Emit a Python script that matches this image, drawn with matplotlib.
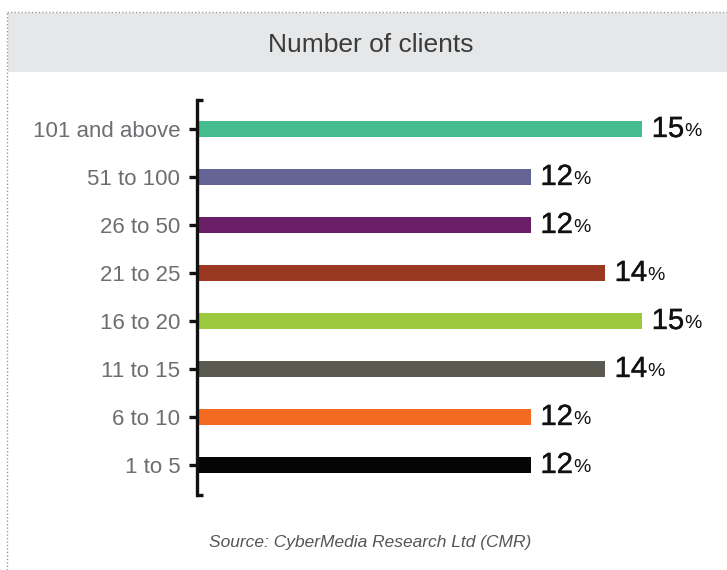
import matplotlib.pyplot as plt
import matplotlib.patheffects as pe
from matplotlib.patches import Rectangle
from matplotlib.lines import Line2D

plt.rcParams['font.family'] = ['Liberation Sans', 'DejaVu Sans']

categories = ['1 to 5', '6 to 10', '11 to 15', '16 to 20', '21 to 25',
              '26 to 50', '51 to 100', '101 and above']
values = [12, 12, 14, 15, 14, 12, 12, 15]
colors = ['#050505', '#f26b21', '#5a5a50', '#9bc93d', '#9a3822',
          '#6a1f68', '#646596', '#44bc8f']

W, H = 727, 570
fig = plt.figure(figsize=(W / 100, H / 100), dpi=100)

# header band and dotted frame
fig.patches.append(Rectangle((8 / W, 1 - 72 / H), 1, 59 / H, transform=fig.transFigure,
                             facecolor='#e6e7e8', edgecolor='none', zorder=0))
fig.lines.append(Line2D([7 / W, 1], [1 - 12 / H, 1 - 12 / H], transform=fig.transFigure,
                        color='#9a9a9a', lw=1, linestyle=(0, (1, 1.5))))
fig.lines.append(Line2D([7 / W, 7 / W], [0, 1 - 12 / H], transform=fig.transFigure,
                        color='#9a9a9a', lw=1, linestyle=(0, (1, 1.5))))
fig.text(371 / W, 1 - 45 / H, 'Number of clients', ha='center', va='center',
         fontsize=19, color='#3c3c3c')
fig.text(370 / W, 1 - 543 / H, 'Source: CyberMedia Research Ltd (CMR)', ha='center',
         va='center', fontsize=12.5, style='italic', color='#555555')

ax = fig.add_axes([197 / W, 1 - 495 / H, (642 - 197) / W, 395 / H])
pos = list(range(len(categories)))
ax.barh(pos, values, left=0, height=0.32, color=colors, zorder=2)
ax.set_xlim(3, 15)
ax.set_ylim(-0.625, 7.604)
ax.set_yticks(pos)
ax.set_yticklabels(categories, fontsize=16, color='#6d6e71')
ax.tick_params(axis='y', direction='out', length=6, width=2.4, color='#111111', pad=6)
ax.set_xticks([])
for s in ['top', 'right', 'bottom']:
    ax.spines[s].set_visible(False)
ax.spines['left'].set_linewidth(2.4)
ax.spines['left'].set_color('#111111')
# bracket ends
for yy in (0, 1):
    ax.plot([0, 0.014], [yy, yy], transform=ax.transAxes, color='#111111',
            lw=2.4, clip_on=False, solid_capstyle='butt')

heavy = [pe.withStroke(linewidth=0.3, foreground='#111111')]
for p, v in zip(pos, values):
    t = ax.annotate(str(v), xy=(v, p), xytext=(7, 0), textcoords='offset points',
                    ha='left', va='center', fontsize=21, color='#111111',
                    path_effects=heavy)
    ax.annotate('%', xy=(1, 0.12), xycoords=t, xytext=(0, 0),
                textcoords='offset points', ha='left', va='bottom',
                fontsize=14, color='#111111')

fig.savefig('out.png', dpi=100)
